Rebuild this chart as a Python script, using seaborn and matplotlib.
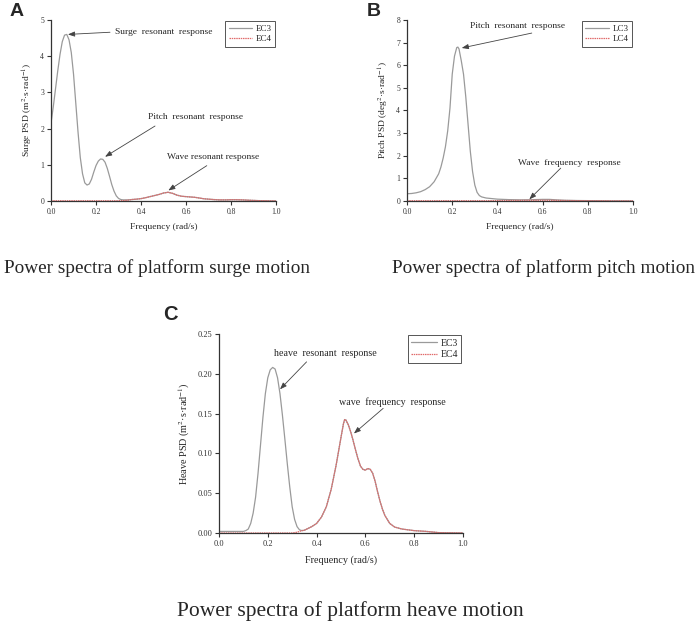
import matplotlib
matplotlib.use("Agg")
import matplotlib.pyplot as plt
import seaborn as sns
import numpy as np

# ---------------- data ----------------
surge_freq = [0.00, 0.01, 0.02, 0.03, 0.04, 0.05, 0.06, 0.07, 0.08, 0.09, 0.10, 0.11, 0.12, 0.13,
              0.14, 0.15, 0.16, 0.17, 0.18, 0.19, 0.20, 0.21, 0.22, 0.23, 0.24, 0.25, 0.26, 0.27,
              0.28, 0.29, 0.30, 0.31, 0.32, 0.34, 0.36, 0.38, 0.40, 0.42, 0.44, 0.46, 0.48, 0.50,
              0.52, 0.54, 0.56, 0.58, 0.60, 0.62, 0.64, 0.66, 0.68, 0.70, 0.72, 0.75, 0.78, 0.80,
              0.82, 0.85, 0.88, 0.92, 0.96, 1.00]
surge_ec3 = [2.15, 2.6, 3.1, 3.6, 4.05, 4.4, 4.58, 4.6, 4.45, 4.1, 3.5, 2.7, 1.9, 1.2,
             0.75, 0.5, 0.44, 0.47, 0.6, 0.8, 0.98, 1.1, 1.16, 1.15, 1.07, 0.9, 0.68, 0.45,
             0.27, 0.14, 0.07, 0.04, 0.03, 0.03, 0.04, 0.05, 0.065, 0.09, 0.12, 0.15, 0.18, 0.22,
             0.24, 0.21, 0.16, 0.13, 0.12, 0.11, 0.1, 0.08, 0.06, 0.05, 0.04, 0.03, 0.03, 0.035,
             0.035, 0.03, 0.02, 0.01, 0.005, 0.0]
surge_ec4 = [0.005, 0.005, 0.005, 0.005, 0.005, 0.005, 0.005, 0.005, 0.005, 0.005, 0.005, 0.005, 0.005, 0.005,
             0.005, 0.005, 0.005, 0.005, 0.005, 0.005, 0.005, 0.005, 0.005, 0.005, 0.005, 0.005, 0.005, 0.005,
             0.005, 0.005, 0.006, 0.008, 0.01, 0.02, 0.04, 0.05, 0.065, 0.09, 0.12, 0.15, 0.18, 0.22,
             0.24, 0.21, 0.16, 0.13, 0.12, 0.11, 0.1, 0.08, 0.06, 0.05, 0.04, 0.03, 0.03, 0.035,
             0.035, 0.03, 0.02, 0.01, 0.005, 0.0]

pitch_freq = [0.00, 0.02, 0.04, 0.06, 0.08, 0.10, 0.12, 0.14, 0.15, 0.16, 0.17, 0.18, 0.19, 0.20,
              0.21, 0.22, 0.225, 0.23, 0.24, 0.25, 0.26, 0.27, 0.28, 0.29, 0.30, 0.31, 0.32, 0.33,
              0.35, 0.38, 0.40, 0.45, 0.50, 0.55, 0.60, 0.63, 0.66, 0.70, 0.75, 0.80, 0.90, 1.00]
pitch_lc3 = [0.32, 0.33, 0.36, 0.41, 0.5, 0.63, 0.85, 1.2, 1.5, 1.9, 2.4, 3.1, 4.1, 5.6,
             6.4, 6.78, 6.8, 6.72, 6.2, 5.6, 4.6, 3.4, 2.2, 1.3, 0.7, 0.38, 0.24, 0.18,
             0.13, 0.1, 0.08, 0.06, 0.05, 0.055, 0.07, 0.07, 0.05, 0.03, 0.02, 0.015, 0.005, 0.0]
pitch_lc4 = [0.01, 0.01, 0.01, 0.01, 0.01, 0.01, 0.01, 0.01, 0.01, 0.01, 0.01, 0.01, 0.01, 0.01,
             0.01, 0.01, 0.01, 0.01, 0.01, 0.01, 0.01, 0.01, 0.01, 0.01, 0.01, 0.01, 0.01, 0.01,
             0.01, 0.012, 0.015, 0.02, 0.025, 0.03, 0.03, 0.03, 0.025, 0.02, 0.015, 0.01, 0.005, 0.0]

heave_freq = [0.00, 0.05, 0.10, 0.11, 0.12, 0.13, 0.14, 0.15, 0.16, 0.17, 0.18, 0.19, 0.20, 0.21,
              0.22, 0.23, 0.24, 0.25, 0.26, 0.27, 0.28, 0.29, 0.30, 0.31, 0.32, 0.33, 0.34, 0.35,
              0.36, 0.38, 0.40, 0.42, 0.44, 0.46, 0.48, 0.50, 0.51, 0.515, 0.52, 0.53, 0.54, 0.55,
              0.56, 0.57, 0.58, 0.59, 0.60, 0.61, 0.62, 0.63, 0.64, 0.65, 0.66, 0.67, 0.68, 0.70,
              0.72, 0.75, 0.80, 0.85, 0.90, 1.00]
heave_ec3 = [0.002, 0.002, 0.002, 0.003, 0.005, 0.012, 0.025, 0.045, 0.075, 0.11, 0.145, 0.175, 0.195, 0.205,
             0.208, 0.206, 0.195, 0.175, 0.148, 0.118, 0.087, 0.058, 0.033, 0.017, 0.008, 0.004, 0.003, 0.0035,
             0.005, 0.008, 0.012, 0.02, 0.033, 0.055, 0.085, 0.12, 0.137, 0.1425, 0.142, 0.136, 0.127, 0.116,
             0.104, 0.093, 0.084, 0.08, 0.079, 0.081, 0.08, 0.075, 0.065, 0.052, 0.04, 0.03, 0.022, 0.012,
             0.0075, 0.005, 0.003, 0.002, 0.0005, 0.0]
heave_ec4 = [0.0, 0.0, 0.0, 0.0, 0.0, 0.0, 0.0, 0.0, 0.0, 0.0, 0.0, 0.0, 0.0, 0.0,
             0.0, 0.0, 0.0, 0.0, 0.0, 0.0, 0.0, 0.0, 0.0, 0.0005, 0.001, 0.002, 0.003, 0.0035,
             0.005, 0.008, 0.012, 0.02, 0.033, 0.055, 0.085, 0.12, 0.137, 0.1425, 0.142, 0.136, 0.127, 0.116,
             0.104, 0.093, 0.084, 0.08, 0.079, 0.081, 0.08, 0.075, 0.065, 0.052, 0.04, 0.03, 0.022, 0.012,
             0.0075, 0.005, 0.003, 0.002, 0.0005, 0.0]

x_ticks = [0.0, 0.2, 0.4, 0.6, 0.8, 1.0]
x_ticklabels = ["0.0", "0.2", "0.4", "0.6", "0.8", "1.0"]
surge_yticks = [0, 1, 2, 3, 4, 5]
pitch_yticks = [0, 1, 2, 3, 4, 5, 6, 7, 8]
heave_yticks = [0.00, 0.05, 0.10, 0.15, 0.20, 0.25]
heave_yticklabels = ["0.00", "0.05", "0.10", "0.15", "0.20", "0.25"]

# ---------------- style ----------------
sns.set_style("ticks")
plt.rcParams["font.family"] = ["Liberation Serif", "DejaVu Serif"]
plt.rcParams["mathtext.fontset"] = "stix"
plt.rcParams["axes.edgecolor"] = "#333333"
plt.rcParams["axes.linewidth"] = 0.9
plt.rcParams["xtick.color"] = "#333333"
plt.rcParams["ytick.color"] = "#333333"
plt.rcParams["xtick.direction"] = "out"
plt.rcParams["ytick.direction"] = "out"

GREY = "#9a9a9a"
RED = "#e06a6a"
ARROW = "#444444"

fig = plt.figure(figsize=(6.99, 6.29), dpi=100)
axA = fig.add_axes([0.073, 0.6805, 0.322, 0.2878])
axB = fig.add_axes([0.5823, 0.6805, 0.3233, 0.2878])
axC = fig.add_axes([0.3133, 0.1526, 0.349, 0.3164])


def style_axis(ax, yticks, ylim, yticklabels, ylabel, fs_tick, fs_lab):
    ax.set_xlim(0, 1.0)
    ax.set_ylim(*ylim)
    ax.set_xticks(x_ticks)
    ax.set_xticklabels(x_ticklabels, fontsize=fs_tick)
    ax.set_yticks(yticks)
    ax.set_yticklabels(yticklabels, fontsize=fs_tick)
    ax.tick_params(length=3, width=0.8, pad=2)
    ax.set_xlabel("Frequency (rad/s)", fontsize=fs_lab, labelpad=5)
    ax.set_ylabel(ylabel, fontsize=fs_lab, labelpad=4)
    sns.despine(ax=ax)


def draw(ax, freq, s1, s2, n1, n2):
    sns.lineplot(x=freq, y=s1, ax=ax, color=GREY, lw=0.9, label=n1)
    sns.lineplot(x=freq, y=s2, ax=ax, color=RED, lw=0.9, label=n2, linestyle=(0, (1.2, 0.6)))


def legend(ax, fs):
    leg = ax.legend(loc="upper right", fontsize=fs, frameon=True, fancybox=False,
                    edgecolor="#555555", framealpha=1, borderaxespad=0.15,
                    handlelength=2.6, handletextpad=0.4, borderpad=0.35, labelspacing=0.25)
    leg.get_frame().set_linewidth(0.7)


def note(ax, text, xy_text, tail, tip, fs):
    ax.text(xy_text[0], xy_text[1], text, fontsize=fs, ha="left", va="center")
    ax.annotate("", xy=tip, xytext=tail,
                arrowprops=dict(arrowstyle="-|>,head_length=0.4,head_width=0.15",
                                color=ARROW, lw=0.6, shrinkA=0, shrinkB=0))


# Panel A
draw(axA, surge_freq, surge_ec3, surge_ec4, "EC3", "EC4")
style_axis(axA, surge_yticks, (0, 5), [str(v) for v in surge_yticks],
           r"Surge PSD (m$^{2}$·s·rad$^{-1}$)", 5.5, 6.8)
legend(axA, 6.5)
note(axA, "Surge  resonant  response", (0.284, 4.68), (0.262, 4.66), (0.075, 4.6), 6.8)
note(axA, "Pitch  resonant  response", (0.431, 2.33), (0.462, 2.07), (0.24, 1.22), 6.8)
note(axA, "Wave resonant response", (0.514, 1.22), (0.692, 0.975), (0.521, 0.29), 6.8)

# Panel B
draw(axB, pitch_freq, pitch_lc3, pitch_lc4, "LC3", "LC4")
style_axis(axB, pitch_yticks, (0, 8), [str(v) for v in pitch_yticks],
           r"Pitch PSD (deg$^{2}$·s·rad$^{-1}$)", 5.5, 6.8)
legend(axB, 6.5)
note(axB, "Pitch  resonant  response", (0.279, 7.74), (0.552, 7.42), (0.242, 6.76), 6.8)
note(axB, "Wave  frequency  response", (0.491, 1.69), (0.68, 1.45), (0.541, 0.07), 6.8)

# Panel C
draw(axC, heave_freq, heave_ec3, heave_ec4, "EC3", "EC4")
style_axis(axC, heave_yticks, (0, 0.25), heave_yticklabels,
           r"Heave PSD (m$^{2}$·s·rad$^{-1}$)", 6.0, 7.3)
legend(axC, 7.0)
note(axC, "heave  resonant  response", (0.227, 0.2258), (0.359, 0.215), (0.25, 0.1805), 7.2)
note(axC, "wave  frequency  response", (0.493, 0.165), (0.673, 0.1566), (0.553, 0.125), 7.2)

# Panel letters
fig.text(10 / 699, 1 - 12 / 629, "A", fontsize=14, fontweight="bold",
         family="Liberation Sans", ha="left", va="center")
fig.text(367 / 699, 1 - 12 / 629, "B", fontsize=14, fontweight="bold",
         family="Liberation Sans", ha="left", va="center")
fig.text(163 / 699, 1 - 315 / 629, "C", fontsize=14.5, fontweight="bold",
         family="Liberation Sans", ha="left", va="center")

# Captions
fig.text(156.5 / 699, 1 - 268 / 629, "Power spectra of platform surge motion", fontsize=13.9,
         ha="center", va="center")
fig.text(543.5 / 699, 1 - 268 / 629, "Power spectra of platform pitch motion", fontsize=13.9,
         ha="center", va="center")
fig.text(350 / 699, 1 - 611 / 629, "Power spectra of platform heave motion", fontsize=15.5,
         ha="center", va="center")

fig.savefig("out.png", dpi=100)
